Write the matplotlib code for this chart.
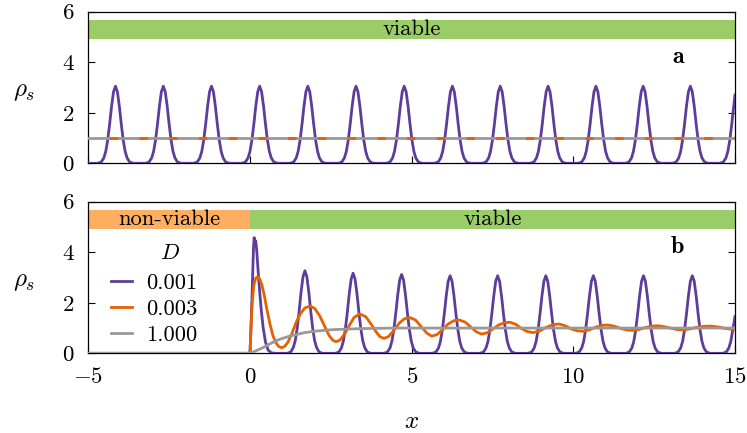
import matplotlib
matplotlib.use("Agg")
import matplotlib.pyplot as plt

plt.rcParams.update({
    "font.family": "serif",
    "font.serif": ["cmr10"],
    "mathtext.fontset": "cm",
    "axes.formatter.use_mathtext": True,
    "axes.unicode_minus": True,
})

# ---------------- data ----------------
x_ticks = [-5, 0, 5, 10, 15]
y_ticks = [0, 2, 4, 6]
legend_labels = ["0.001", "0.003", "1.000"]

# panel a: fully viable domain
top_regions = [(-5, 15, "viable")]
top_flat_x = [-5.0, 15.0]
top_orange_y = [1.0, 1.0]
top_gray_y = [1.0, 1.0]

top_purple_x = [
    -5.00,
    -4.71, -4.60, -4.52, -4.46, -4.40, -4.34, -4.28, -4.22, -4.16, -4.10, -4.04, -3.98, -3.92, -3.86, -3.80, -3.72, -3.61,
    -3.23, -3.12, -3.04, -2.98, -2.92, -2.86, -2.80, -2.74, -2.68, -2.62, -2.56, -2.50, -2.44, -2.38, -2.32, -2.24, -2.13,
    -1.74, -1.63, -1.55, -1.49, -1.43, -1.37, -1.31, -1.25, -1.19, -1.13, -1.07, -1.01, -0.95, -0.89, -0.83, -0.75, -0.64,
    -0.25, -0.14, -0.06, 0.00, 0.06, 0.12, 0.18, 0.24, 0.30, 0.36, 0.42, 0.48, 0.54, 0.60, 0.66, 0.74, 0.85,
    1.24, 1.35, 1.43, 1.49, 1.55, 1.61, 1.67, 1.73, 1.79, 1.85, 1.91, 1.97, 2.03, 2.09, 2.15, 2.23, 2.34,
    2.73, 2.84, 2.92, 2.98, 3.04, 3.10, 3.16, 3.22, 3.28, 3.34, 3.40, 3.46, 3.52, 3.58, 3.64, 3.72, 3.83,
    4.22, 4.33, 4.41, 4.47, 4.53, 4.59, 4.65, 4.71, 4.77, 4.83, 4.89, 4.95, 5.01, 5.07, 5.13, 5.21, 5.32,
    5.71, 5.82, 5.90, 5.96, 6.02, 6.08, 6.14, 6.20, 6.26, 6.32, 6.38, 6.44, 6.50, 6.56, 6.62, 6.70, 6.81,
    7.19, 7.30, 7.38, 7.44, 7.50, 7.56, 7.62, 7.68, 7.74, 7.80, 7.86, 7.92, 7.98, 8.04, 8.10, 8.18, 8.29,
    8.67, 8.78, 8.86, 8.92, 8.98, 9.04, 9.10, 9.16, 9.22, 9.28, 9.34, 9.40, 9.46, 9.52, 9.58, 9.66, 9.77,
    10.15, 10.26, 10.34, 10.40, 10.46, 10.52, 10.58, 10.64, 10.70, 10.76, 10.82, 10.88, 10.94, 11.00, 11.06, 11.14, 11.25,
    11.61, 11.72, 11.80, 11.86, 11.92, 11.98, 12.04, 12.10, 12.16, 12.22, 12.28, 12.34, 12.40, 12.46, 12.52, 12.60, 12.71,
    13.07, 13.18, 13.26, 13.32, 13.38, 13.44, 13.50, 13.56, 13.62, 13.68, 13.74, 13.80, 13.86, 13.92, 13.98, 14.06, 14.17,
    14.53, 14.64, 14.72, 14.78, 14.84, 14.90, 14.96, 15.00,
]
top_purple_y = [
    0.00,
    0.00, 0.05, 0.21, 0.47, 0.92, 1.55, 2.26, 2.83, 3.05, 2.83, 2.26, 1.55, 0.92, 0.47, 0.21, 0.05, 0.00,
    0.00, 0.05, 0.21, 0.47, 0.92, 1.55, 2.26, 2.83, 3.05, 2.83, 2.26, 1.55, 0.92, 0.47, 0.21, 0.05, 0.00,
    0.00, 0.05, 0.21, 0.47, 0.92, 1.55, 2.26, 2.83, 3.05, 2.83, 2.26, 1.55, 0.92, 0.47, 0.21, 0.05, 0.00,
    0.00, 0.05, 0.21, 0.47, 0.92, 1.55, 2.26, 2.83, 3.05, 2.83, 2.26, 1.55, 0.92, 0.47, 0.21, 0.05, 0.00,
    0.00, 0.05, 0.21, 0.47, 0.92, 1.55, 2.26, 2.83, 3.05, 2.83, 2.26, 1.55, 0.92, 0.47, 0.21, 0.05, 0.00,
    0.00, 0.05, 0.21, 0.47, 0.92, 1.55, 2.26, 2.83, 3.05, 2.83, 2.26, 1.55, 0.92, 0.47, 0.21, 0.05, 0.00,
    0.00, 0.05, 0.21, 0.47, 0.92, 1.55, 2.26, 2.83, 3.05, 2.83, 2.26, 1.55, 0.92, 0.47, 0.21, 0.05, 0.00,
    0.00, 0.05, 0.21, 0.47, 0.92, 1.55, 2.26, 2.83, 3.05, 2.83, 2.26, 1.55, 0.92, 0.47, 0.21, 0.05, 0.00,
    0.00, 0.05, 0.21, 0.47, 0.92, 1.55, 2.26, 2.83, 3.05, 2.83, 2.26, 1.55, 0.92, 0.47, 0.21, 0.05, 0.00,
    0.00, 0.05, 0.21, 0.47, 0.92, 1.55, 2.26, 2.83, 3.05, 2.83, 2.26, 1.55, 0.92, 0.47, 0.21, 0.05, 0.00,
    0.00, 0.05, 0.21, 0.47, 0.92, 1.55, 2.26, 2.83, 3.05, 2.83, 2.26, 1.55, 0.92, 0.47, 0.21, 0.05, 0.00,
    0.00, 0.05, 0.21, 0.47, 0.92, 1.55, 2.26, 2.83, 3.05, 2.83, 2.26, 1.55, 0.92, 0.47, 0.21, 0.05, 0.00,
    0.00, 0.05, 0.21, 0.47, 0.92, 1.55, 2.26, 2.83, 3.05, 2.83, 2.26, 1.55, 0.92, 0.47, 0.21, 0.05, 0.00,
    0.00, 0.05, 0.21, 0.47, 0.92, 1.55, 2.26, 2.70,
]

# panel b: non-viable for x < 0, viable for x > 0
bottom_regions = [(-5, 0, "non-viable"), (0, 15, "viable")]

bot_purple_x = [
    -5.00, 0.00,
    0.04, 0.08, 0.11, 0.13, 0.155, 0.18, 0.21, 0.25, 0.30, 0.35, 0.41, 0.48, 0.56, 0.66, 0.80,
    1.15, 1.26, 1.34, 1.40, 1.46, 1.52, 1.58, 1.64, 1.70, 1.76, 1.82, 1.88, 1.94, 2.00, 2.06, 2.14, 2.25,
    2.64, 2.75, 2.83, 2.89, 2.95, 3.01, 3.07, 3.13, 3.19, 3.25, 3.31, 3.37, 3.43, 3.49, 3.55, 3.63, 3.74,
    4.14, 4.25, 4.33, 4.39, 4.45, 4.51, 4.57, 4.63, 4.69, 4.75, 4.81, 4.87, 4.93, 4.99, 5.05, 5.13, 5.24,
    5.64, 5.75, 5.83, 5.89, 5.95, 6.01, 6.07, 6.13, 6.19, 6.25, 6.31, 6.37, 6.43, 6.49, 6.55, 6.63, 6.74,
    7.11, 7.22, 7.30, 7.36, 7.42, 7.48, 7.54, 7.60, 7.66, 7.72, 7.78, 7.84, 7.90, 7.96, 8.02, 8.10, 8.21,
    8.60, 8.71, 8.79, 8.85, 8.91, 8.97, 9.03, 9.09, 9.15, 9.21, 9.27, 9.33, 9.39, 9.45, 9.51, 9.59, 9.70,
    10.07, 10.18, 10.26, 10.32, 10.38, 10.44, 10.50, 10.56, 10.62, 10.68, 10.74, 10.80, 10.86, 10.92, 10.98, 11.06, 11.17,
    11.62, 11.73, 11.81, 11.87, 11.93, 11.99, 12.05, 12.11, 12.17, 12.23, 12.29, 12.35, 12.41, 12.47, 12.53, 12.61, 12.72,
    13.13, 13.24, 13.32, 13.38, 13.44, 13.50, 13.56, 13.62, 13.68, 13.74, 13.80, 13.86, 13.92, 13.98, 14.04, 14.12, 14.23,
    14.62, 14.73, 14.81, 14.87, 14.93, 15.00,
]
bot_purple_y = [
    0.00, 0.00,
    1.30, 3.00, 4.20, 4.58, 4.35, 4.45, 4.05, 3.30, 2.45, 1.70, 1.00, 0.45, 0.13, 0.02, 0.00,
    0.00, 0.05, 0.23, 0.50, 0.99, 1.66, 2.42, 3.03, 3.27, 3.03, 2.42, 1.66, 0.99, 0.50, 0.23, 0.05, 0.00,
    0.00, 0.05, 0.22, 0.49, 0.96, 1.61, 2.35, 2.94, 3.17, 2.94, 2.35, 1.61, 0.96, 0.49, 0.22, 0.05, 0.00,
    0.00, 0.05, 0.21, 0.48, 0.94, 1.59, 2.31, 2.90, 3.12, 2.90, 2.31, 1.59, 0.94, 0.48, 0.21, 0.05, 0.00,
    0.00, 0.05, 0.21, 0.47, 0.93, 1.56, 2.27, 2.85, 3.07, 2.85, 2.27, 1.56, 0.93, 0.47, 0.21, 0.05, 0.00,
    0.00, 0.05, 0.21, 0.47, 0.93, 1.56, 2.27, 2.85, 3.07, 2.85, 2.27, 1.56, 0.93, 0.47, 0.21, 0.05, 0.00,
    0.00, 0.05, 0.21, 0.47, 0.93, 1.56, 2.27, 2.85, 3.07, 2.85, 2.27, 1.56, 0.93, 0.47, 0.21, 0.05, 0.00,
    0.00, 0.05, 0.21, 0.47, 0.93, 1.56, 2.27, 2.85, 3.07, 2.85, 2.27, 1.56, 0.93, 0.47, 0.21, 0.05, 0.00,
    0.00, 0.05, 0.21, 0.47, 0.93, 1.56, 2.27, 2.85, 3.07, 2.85, 2.27, 1.56, 0.93, 0.47, 0.21, 0.05, 0.00,
    0.00, 0.05, 0.21, 0.47, 0.93, 1.56, 2.27, 2.85, 3.07, 2.85, 2.27, 1.56, 0.93, 0.47, 0.21, 0.05, 0.00,
    0.00, 0.05, 0.21, 0.47, 0.92, 1.45,
]

bot_orange_x = [
    -5.00, 0.00, 0.03, 0.07, 0.12, 0.18, 0.24, 0.30, 0.37, 0.45, 0.53, 0.62, 0.71, 0.80, 0.89, 0.98,
    1.08, 1.18, 1.30, 1.42, 1.55, 1.70, 1.86, 2.00, 2.15, 2.30, 2.44, 2.56, 2.66, 2.78, 2.92,
    3.07, 3.22, 3.40, 3.58, 3.75, 3.90, 4.02, 4.14, 4.28, 4.45, 4.62, 4.78, 4.95, 5.12, 5.30,
    5.47, 5.62, 5.78, 5.95, 6.12, 6.30, 6.47, 6.65, 6.83, 7.00, 7.17, 7.35, 7.52, 7.70, 7.87,
    8.04, 8.22, 8.40, 8.58, 8.76, 8.95, 9.15, 9.36, 9.56, 9.75, 9.95, 10.13, 10.31, 10.50, 10.70,
    10.90, 11.08, 11.28, 11.48, 11.67, 11.86, 12.05, 12.25, 12.45, 12.63, 12.83, 13.03, 13.22, 13.41, 13.62,
    13.83, 14.03, 14.24, 14.45, 14.65, 14.85, 15.00,
]
bot_orange_y = [
    0.00, 0.00, 1.00, 2.00, 2.70, 2.98, 3.03, 2.95, 2.70, 2.25, 1.70, 1.15, 0.70, 0.42, 0.27, 0.22,
    0.28, 0.45, 0.80, 1.20, 1.55, 1.80, 1.87, 1.78, 1.50, 1.10, 0.72, 0.52, 0.46, 0.52, 0.75,
    1.10, 1.42, 1.56, 1.45, 1.15, 0.85, 0.66, 0.59, 0.66, 0.90, 1.20, 1.37, 1.41, 1.32, 1.05,
    0.80, 0.68, 0.74, 0.93, 1.15, 1.29, 1.32, 1.24, 1.04, 0.85, 0.76, 0.82, 0.97, 1.13, 1.21,
    1.23, 1.15, 0.98, 0.86, 0.82, 0.88, 1.02, 1.13, 1.16, 1.09, 0.96, 0.89, 0.87, 0.93, 1.04,
    1.11, 1.12, 1.07, 0.98, 0.92, 0.91, 0.95, 1.03, 1.08, 1.09, 1.05, 0.99, 0.94, 0.93, 0.97,
    1.03, 1.07, 1.08, 1.05, 1.00, 0.96, 0.95,
]

bot_gray_x = [-5.00, 0.00, 0.20, 0.41, 0.65, 0.93, 1.20, 1.44, 1.70, 1.96, 2.47, 3.00, 3.50, 4.50, 6.00, 15.00]
bot_gray_y = [0.00, 0.00, 0.11, 0.23, 0.40, 0.56, 0.67, 0.75, 0.82, 0.87, 0.93, 0.96, 0.98, 1.00, 1.00, 1.00]

# ---------------- style ----------------
PURPLE = "#5e3c99"
ORANGE = "#e66101"
GRAY = "#999999"
GREEN = "#9acd68"
PEACH = "#fdae61"
LW = 2.0
TICK_FS = 16.5
TEXT_FS = 16.3
LEG_FS = 16.2

fig = plt.figure(figsize=(7.47, 4.33), dpi=100)
ax1 = fig.add_axes([0.1182, 0.6229, 0.8657, 0.3501])
ax2 = fig.add_axes([0.1182, 0.1840, 0.8657, 0.3501])

band_lo, band_hi = 4.92, 5.67
text_y = 5.06


def draw_regions(ax, regions):
    for (a, b, label) in regions:
        col = GREEN if label == "viable" else PEACH
        ax.fill_between([a, b], band_lo, band_hi, color=col, lw=0, zorder=1)
        ax.text((a + b) / 2, text_y, label, ha="center", va="baseline",
                fontsize=TEXT_FS, zorder=5)


for ax in (ax1, ax2):
    ax.set_xlim(-5, 15)
    ax.set_ylim(0, 6)
    ax.set_xticks(x_ticks)
    ax.set_yticks(y_ticks)
    ax.tick_params(direction="in", length=5, width=0.8, top=False, right=True,
                   labelsize=TICK_FS, pad=10)
    for sp in ax.spines.values():
        sp.set_linewidth(0.9)
    ax.set_ylabel(r"$\rho_s$", rotation=0, fontsize=18, va="center", ha="center")
    ax.yaxis.set_label_coords(-0.099, 0.47)

ax1.tick_params(labelbottom=False)

# panel a
draw_regions(ax1, top_regions)
ax1.plot(top_purple_x, top_purple_y, color=PURPLE, lw=LW, zorder=3)
ax1.plot(top_flat_x, top_gray_y, color=GRAY, lw=LW, zorder=3.2)
ax1.plot(top_flat_x, top_orange_y, color=ORANGE, lw=LW, zorder=3.4,
         linestyle=(3.0, (3.0, 7.7)))
ax1.text(13.23, 3.96, "a", fontfamily="cmb10", fontsize=TEXT_FS + 1,
         ha="center", va="baseline")

# panel b
draw_regions(ax2, bottom_regions)
l1, = ax2.plot(bot_purple_x, bot_purple_y, color=PURPLE, lw=LW, zorder=3)
l2, = ax2.plot(bot_orange_x, bot_orange_y, color=ORANGE, lw=LW, zorder=3.2)
l3, = ax2.plot(bot_gray_x, bot_gray_y, color=GRAY, lw=LW, zorder=3.4)
ax2.text(13.23, 3.96, "b", fontfamily="cmb10", fontsize=TEXT_FS + 1,
         ha="center", va="baseline")

ax2.text(-2.47, 3.97, r"$D$", fontsize=LEG_FS, ha="center", va="center")
ax2.legend([l1, l2, l3], legend_labels, loc="upper left",
           bbox_to_anchor=(0.035, 0.53), frameon=False, fontsize=LEG_FS,
           handlelength=0.95, handletextpad=0.6, labelspacing=0.28,
           borderpad=0, borderaxespad=0)

ax2.set_xlabel(r"$x$", fontsize=18, va="center")
ax2.xaxis.set_label_coords(0.5, -0.455)

fig.savefig("out.png", dpi=100)
